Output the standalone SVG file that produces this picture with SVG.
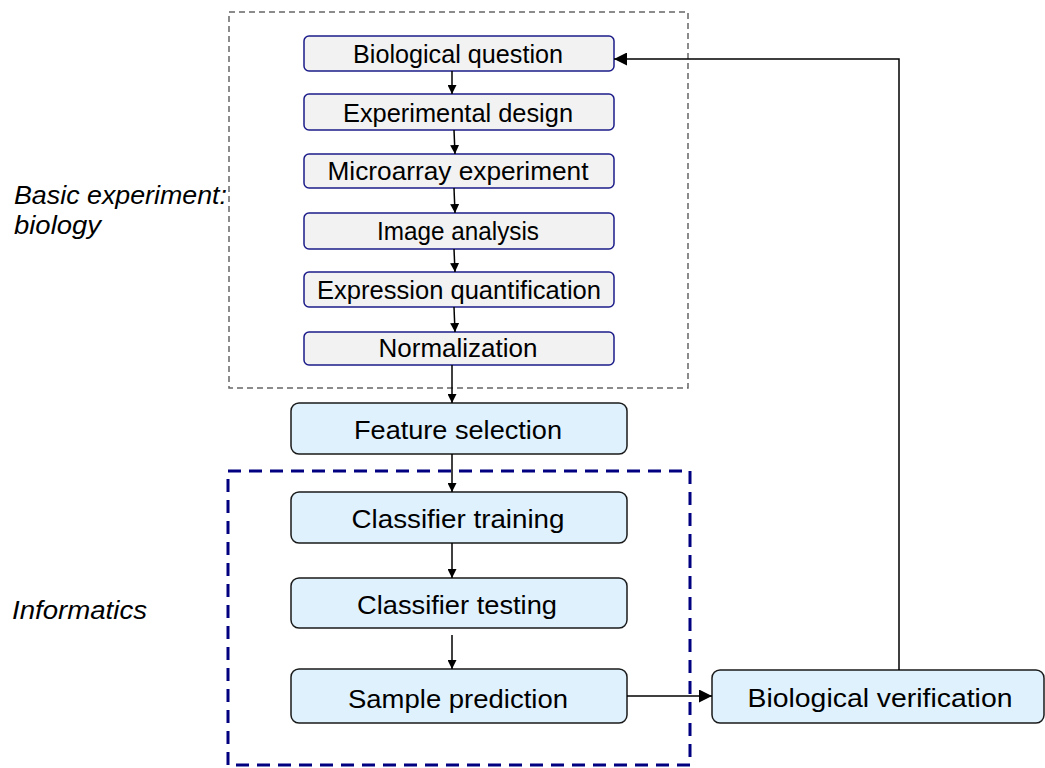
<svg xmlns="http://www.w3.org/2000/svg" width="1045" height="768" viewBox="0 0 1045 768">
<defs>
<style>
.gbox{fill:#f2f2f2;stroke:#1c1c8a;stroke-width:1.5}
.bbox{fill:#dff1fd;stroke:#1a1a1a;stroke-width:1.5}
.gt{font-family:"Liberation Sans",Arial,sans-serif;font-size:25px;fill:#000;text-anchor:middle}
.bt{font-family:"Liberation Sans",Arial,sans-serif;font-size:26px;fill:#000;text-anchor:middle}
.lab{font-family:"Liberation Sans",Arial,sans-serif;font-size:26px;font-style:italic;fill:#000}
.conn{stroke:#000;stroke-width:1.5;fill:none}
</style>
<marker id="ah" viewBox="0 0 10 10" refX="10" refY="5" markerWidth="9" markerHeight="9" markerUnits="userSpaceOnUse" orient="auto"><path d="M0,0 L10,5 L0,10 z" fill="#000"/></marker>
<marker id="ahL" viewBox="0 0 10 10" refX="10" refY="5" markerWidth="13" markerHeight="13" markerUnits="userSpaceOnUse" orient="auto"><path d="M0,0 L10,5 L0,10 z" fill="#000"/></marker>
</defs>
<rect width="1045" height="768" fill="#fff"/>
<g id="group-biology">
<rect x="229" y="12" width="459" height="376" fill="none" stroke="#666" stroke-width="1.5" stroke-dasharray="6 4"/>
</g>
<g id="group-informatics">
<rect x="228" y="471" width="462" height="294" fill="none" stroke="#000080" stroke-width="3" stroke-dasharray="13 8"/>
</g>
<g id="label-biology">
<text class="lab" x="14" y="204" textLength="213" lengthAdjust="spacingAndGlyphs">Basic experiment:</text>
<text class="lab" x="14" y="234" textLength="87" lengthAdjust="spacingAndGlyphs">biology</text>
</g>
<g id="label-informatics">
<text class="lab" x="12" y="619" textLength="135" lengthAdjust="spacingAndGlyphs">Informatics</text>
</g>
<g id="n1"><rect class="gbox" x="304" y="36" width="310" height="35" rx="5"/><text class="gt" x="458" y="63" textLength="210" lengthAdjust="spacingAndGlyphs">Biological question</text></g>
<g id="n2"><rect class="gbox" x="304" y="94" width="310" height="36" rx="5"/><text class="gt" x="458" y="122" textLength="230" lengthAdjust="spacingAndGlyphs">Experimental design</text></g>
<g id="n3"><rect class="gbox" x="304" y="154" width="310" height="34" rx="5"/><text class="gt" x="458" y="180" textLength="261" lengthAdjust="spacingAndGlyphs">Microarray experiment</text></g>
<g id="n4"><rect class="gbox" x="304" y="213" width="310" height="36" rx="5"/><text class="gt" x="458" y="240" textLength="162" lengthAdjust="spacingAndGlyphs">Image analysis</text></g>
<g id="n5"><rect class="gbox" x="304" y="272" width="310" height="35" rx="5"/><text class="gt" x="459" y="299" textLength="284" lengthAdjust="spacingAndGlyphs">Expression quantification</text></g>
<g id="n6"><rect class="gbox" x="304" y="332" width="310" height="33" rx="5"/><text class="gt" x="458" y="357" textLength="159" lengthAdjust="spacingAndGlyphs">Normalization</text></g>
<g id="n7"><rect class="bbox" x="291" y="403" width="336" height="51" rx="8"/><text class="bt" x="458" y="439" textLength="208" lengthAdjust="spacingAndGlyphs">Feature selection</text></g>
<g id="n8"><rect class="bbox" x="291" y="492" width="336" height="51" rx="8"/><text class="bt" x="458" y="528" textLength="213" lengthAdjust="spacingAndGlyphs">Classifier training</text></g>
<g id="n9"><rect class="bbox" x="291" y="578" width="336" height="50" rx="8"/><text class="bt" x="457" y="614" textLength="200" lengthAdjust="spacingAndGlyphs">Classifier testing</text></g>
<g id="n10"><rect class="bbox" x="291" y="669" width="336" height="54" rx="8"/><text class="bt" x="458" y="708" textLength="220" lengthAdjust="spacingAndGlyphs">Sample prediction</text></g>
<g id="n11"><rect class="bbox" x="712" y="670" width="332" height="53" rx="8"/><text class="bt" x="880" y="707" textLength="265" lengthAdjust="spacingAndGlyphs">Biological verification</text></g>
<g id="connectors">
<line class="conn" x1="452" y1="71" x2="452" y2="94" marker-end="url(#ah)"/>
<line class="conn" x1="454" y1="130" x2="455" y2="154" marker-end="url(#ah)"/>
<line class="conn" x1="454" y1="188" x2="455" y2="213" marker-end="url(#ah)"/>
<line class="conn" x1="454" y1="249" x2="455" y2="272" marker-end="url(#ah)"/>
<line class="conn" x1="454" y1="307" x2="455" y2="332" marker-end="url(#ah)"/>
<line class="conn" x1="452" y1="365" x2="452" y2="403" marker-end="url(#ah)"/>
<line class="conn" x1="452" y1="454" x2="452" y2="492" marker-end="url(#ah)"/>
<line class="conn" x1="452" y1="543" x2="452" y2="578" marker-end="url(#ah)"/>
<line class="conn" x1="452" y1="635" x2="452" y2="669" marker-end="url(#ah)"/>
<line class="conn" x1="627" y1="696" x2="712" y2="696" marker-end="url(#ahL)"/>
<polyline class="conn" points="899,670 899,59 614,59" stroke-width="2" marker-end="url(#ahL)"/>
</g>
</svg>
